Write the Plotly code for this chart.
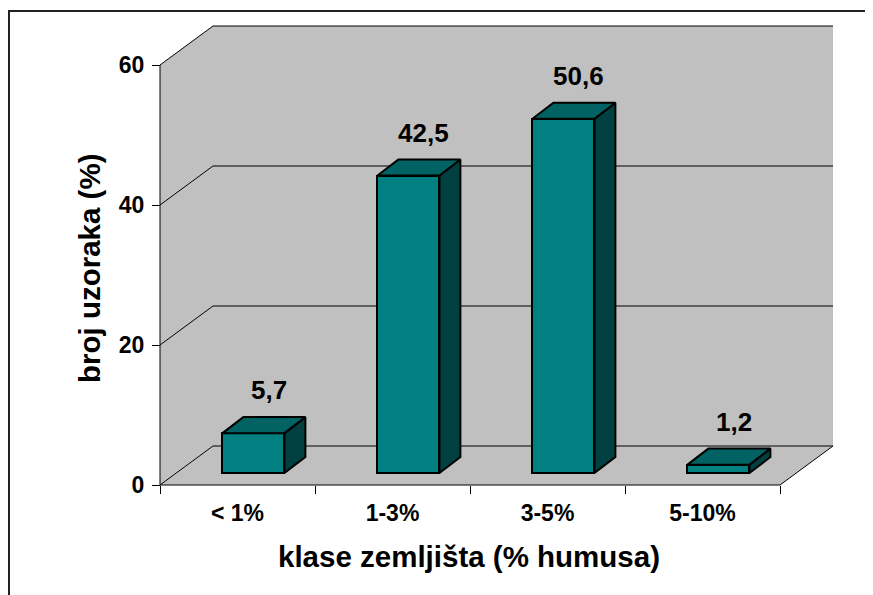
import plotly.graph_objects as go

# ---- data ----
categories = ["< 1%", "1-3%", "3-5%", "5-10%"]
values = [5.7, 42.5, 50.6, 1.2]
value_labels = ["5,7", "42,5", "50,6", "1,2"]
y_ticks = [0, 20, 40, 60]
y_title = "broj uzoraka (%)"
x_title = "klase zemljišta (% humusa)"

# ---- 3D-look geometry (in axis units) ----
N = len(categories)
YMAX = 60
DX, DY = 0.342, 5.57        # depth of the chart box
OX, OY = 0.103, 1.71        # bar front-face depth offset
HW = 0.2                    # half bar width
BDX, BDY = 0.135, 2.29      # bar depth

WALL = "#C0C0C0"
FRONT = "#008080"
TOP = "#006262"
SIDE = "#004040"
FONT = "Liberation Sans"

# canvas / plot area (page body has an 8px offset)
OFF = 8
W, H = 873, 595
ML, MR, MT, MB = 142, 33, 12, 113
PW, PH = W - ML - MR, H - MT - MB
X0PIX, Y0PIX = 160 - OFF, 485 - OFF
PX_PER_X, PX_PER_Y = 155, 7.0
xr = [(ML - X0PIX) / PX_PER_X, (W - MR - X0PIX) / PX_PER_X]
yr = [(Y0PIX - (H - MB)) / PX_PER_Y, (Y0PIX - MT) / PX_PER_Y]
xpos = (X0PIX - ML) / PW
ypos = ((H - MB) - Y0PIX) / PH


def px(x):
    return (x - OFF - ML) / PW


def py(y):
    return ((H - MB) - (y - OFF)) / PH


def path(pts):
    return "M " + " L ".join(f"{x},{y}" for x, y in pts) + " Z"


def opath(pts):
    return "M " + " L ".join(f"{x},{y}" for x, y in pts)


fig = go.Figure()
shapes = []
# walls
shapes.append(dict(type="path", xref="x", yref="y", layer="below",
                   path=path([(0, 0), (0, YMAX), (DX, YMAX + DY), (DX, DY)]),
                   fillcolor=WALL, line=dict(width=0)))
shapes.append(dict(type="path", xref="x", yref="y", layer="below",
                   path=path([(DX, DY), (DX, YMAX + DY), (N + DX, YMAX + DY), (N + DX, DY)]),
                   fillcolor=WALL, line=dict(width=0)))
shapes.append(dict(type="path", xref="x", yref="y", layer="below",
                   path=path([(0, 0), (N, 0), (N + DX, DY), (DX, DY)]),
                   fillcolor=WALL, line=dict(width=0)))
# gridlines on walls
for g in y_ticks:
    shapes.append(dict(type="path", xref="x", yref="y", layer="below",
                       path=opath([(0, g), (DX, g + DY), (N + DX, g + DY)]),
                       line=dict(color="black", width=1)))
# axis edges
shapes.append(dict(type="path", xref="x", yref="y", layer="below",
                   path=opath([(0, YMAX), (0, 0), (N, 0), (N + DX, DY)]),
                   line=dict(color="black", width=1)))
# outer frame
shapes.append(dict(type="rect", xref="paper", yref="paper",
                   x0=px(9), x1=px(W + 30), y0=py(H + 30), y1=py(11),
                   line=dict(color="#222222", width=2), fillcolor="rgba(0,0,0,0)"))

# front faces
centers = [i + 0.5 + OX for i in range(N)]
fig.add_trace(go.Bar(x=centers, y=values, base=[OY] * N, width=2 * HW,
                     marker=dict(color=FRONT, line=dict(color="black", width=2)),
                     showlegend=False, hoverinfo="skip"))

# side and top faces
for c, v in zip(centers, values):
    x0, x1 = c - HW, c + HW
    side = [(x1, OY), (x1 + BDX, OY + BDY), (x1 + BDX, OY + v + BDY), (x1, OY + v), (x1, OY)]
    top = [(x0, OY + v), (x1, OY + v), (x1 + BDX, OY + v + BDY), (x0 + BDX, OY + v + BDY), (x0, OY + v)]
    for pts, col in ((side, SIDE), (top, TOP)):
        fig.add_trace(go.Scatter(x=[p[0] for p in pts], y=[p[1] for p in pts],
                                 xaxis="x2", yaxis="y",
                                 mode="lines", fill="toself", fillcolor=col,
                                 line=dict(color="black", width=2),
                                 showlegend=False, hoverinfo="skip"))

# value labels
annotations = []
for c, v, t in zip(centers, values, value_labels):
    annotations.append(dict(x=c + BDX / 2, y=OY + v + BDY, xref="x", yref="y",
                            text=t, showarrow=False, xshift=5, yshift=27,
                            yanchor="middle",
                            font=dict(family=FONT, size=26, color="black", weight="bold")))
# axis titles
annotations.append(dict(x=px(89), y=py(269), xref="paper", yref="paper",
                        text=y_title, textangle=-90, showarrow=False,
                        xanchor="center", yanchor="middle",
                        font=dict(family=FONT, size=29.5, color="black", weight="bold")))
annotations.append(dict(x=px(469), y=py(556), xref="paper", yref="paper",
                        text=x_title, showarrow=False,
                        xanchor="center", yanchor="middle",
                        font=dict(family=FONT, size=29.5, color="black", weight="bold")))

fig.update_layout(
    width=W, height=H,
    margin=dict(l=ML, r=MR, t=MT, b=MB),
    paper_bgcolor="white", plot_bgcolor="white",
    shapes=shapes, annotations=annotations,
    bargap=0,
    xaxis=dict(range=xr, anchor="free", position=ypos, showgrid=False, zeroline=False,
               showline=False, tickmode="array", tickvals=list(range(N + 1)),
               ticktext=[""] * (N + 1), ticks="outside", ticklen=8, tickcolor="black",
               tickwidth=1, fixedrange=True),
    xaxis2=dict(range=xr, anchor="free", position=ypos, overlaying="x", side="bottom",
                showgrid=False, zeroline=False, showline=False, tickmode="array",
                tickvals=[i + 0.5 for i in range(N)], ticktext=categories, ticks="",
                ticklabelstandoff=12,
                tickfont=dict(family=FONT, size=23, color="black", weight="bold"),
                fixedrange=True),
    yaxis=dict(range=yr, anchor="free", position=xpos, showgrid=False, zeroline=False,
               showline=False, tickmode="array", tickvals=y_ticks, ticks="outside",
               ticklen=8, tickcolor="black", tickwidth=1, ticklabelstandoff=3,
               tickfont=dict(family=FONT, size=23, color="black", weight="bold"),
               fixedrange=True),
)

fig.write_html("out.html")
